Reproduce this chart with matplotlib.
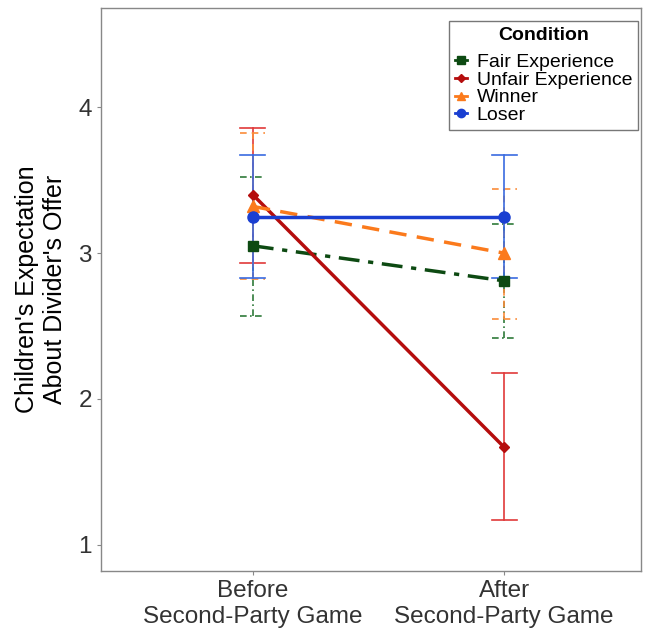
import numpy as np
import matplotlib
matplotlib.use("Agg")
import matplotlib.pyplot as plt
from matplotlib.lines import Line2D

plt.rcParams['font.family'] = ['Liberation Sans', 'DejaVu Sans']

# data
phases = ["Before\nSecond-Party Game", "After\nSecond-Party Game"]
conditions = ["Fair Experience", "Unfair Experience", "Winner", "Loser"]
means = {
    "Fair Experience": [3.05, 2.81],
    "Unfair Experience": [3.40, 1.67],
    "Winner": [3.32, 3.00],
    "Loser": [3.25, 3.25],
}
upper = {
    "Fair Experience": [3.52, 3.20],
    "Unfair Experience": [3.86, 2.18],
    "Winner": [3.82, 3.44],
    "Loser": [3.67, 3.67],
}
lower = {
    "Fair Experience": [2.57, 2.42],
    "Unfair Experience": [2.93, 1.17],
    "Winner": [2.82, 2.55],
    "Loser": [2.83, 2.83],
}

# styles
line_col = {"Fair Experience": "#0d4a12", "Unfair Experience": "#b50d0d",
            "Winner": "#fb7a1c", "Loser": "#1a3fd1"}
err_col = {"Fair Experience": "#2f7a3a", "Unfair Experience": "#e0393a",
           "Winner": "#fb8c3a", "Loser": "#3a6be0"}
lstyle = {"Fair Experience": (0, (6, 2.5, 1.5, 2.5)), "Unfair Experience": "-",
          "Winner": (0, (5, 3)), "Loser": "-"}
estyle = {"Fair Experience": (0, (4, 2, 1, 2)), "Unfair Experience": "-",
          "Winner": (0, (4, 3)), "Loser": "-"}
markers = {"Fair Experience": "s", "Unfair Experience": "D",
           "Winner": "^", "Loser": "o"}
msize = {"Fair Experience": 7, "Unfair Experience": 5,
         "Winner": 8, "Loser": 8}

fig = plt.figure(figsize=(6.55, 6.41), dpi=100)
ax = fig.add_axes([0.154, 0.109, 0.825, 0.8785])

x = np.array([1, 2])
handles = []
for c in conditions:
    m = np.array(means[c])
    # error bars
    for xi, l, h in zip(x, lower[c], upper[c]):
        ax.plot([xi, xi], [l, h], color=err_col[c], lw=1.2, ls=estyle[c], zorder=2)
        for yy in (l, h):
            ax.plot([xi - 0.05, xi + 0.05], [yy, yy], color=err_col[c], lw=1.2,
                    ls=estyle[c], zorder=2)
    ax.plot(x, m, color=line_col[c], lw=2.5, ls=lstyle[c], marker=markers[c],
            ms=msize[c], zorder=3)
    handles.append(Line2D([], [], color=line_col[c], lw=2, marker=markers[c],
                          ms=msize[c] * 0.75, label=c))

ax.set_xlim(0.395, 2.546)
ax.set_ylim(0.82, 4.68)
ax.set_xticks(x)
ax.set_xticklabels(phases, fontsize=17.5)
ax.set_yticks([1, 2, 3, 4])
ax.set_yticklabels(["1", "2", "3", "4"], fontsize=17.5)
ax.tick_params(colors="#333333", length=3, color="#888888")
for s in ax.spines.values():
    s.set_color("#888888")
    s.set_linewidth(1)
ax.set_ylabel("Children's Expectation\nAbout Divider's Offer", fontsize=18, labelpad=8)

leg = ax.legend(handles=handles, title="Condition", loc="upper right",
                bbox_to_anchor=(0.994, 0.977), borderaxespad=0,
                fontsize=14, title_fontsize=14,
                frameon=True, fancybox=False, edgecolor="#555555",
                handlelength=0.6, handletextpad=0.5, labelspacing=0.0,
                borderpad=0.3)
leg.get_title().set_fontweight("bold")
leg.get_frame().set_linewidth(1)
leg._legend_box.sep = 7

fig.savefig("out.png", dpi=100)
